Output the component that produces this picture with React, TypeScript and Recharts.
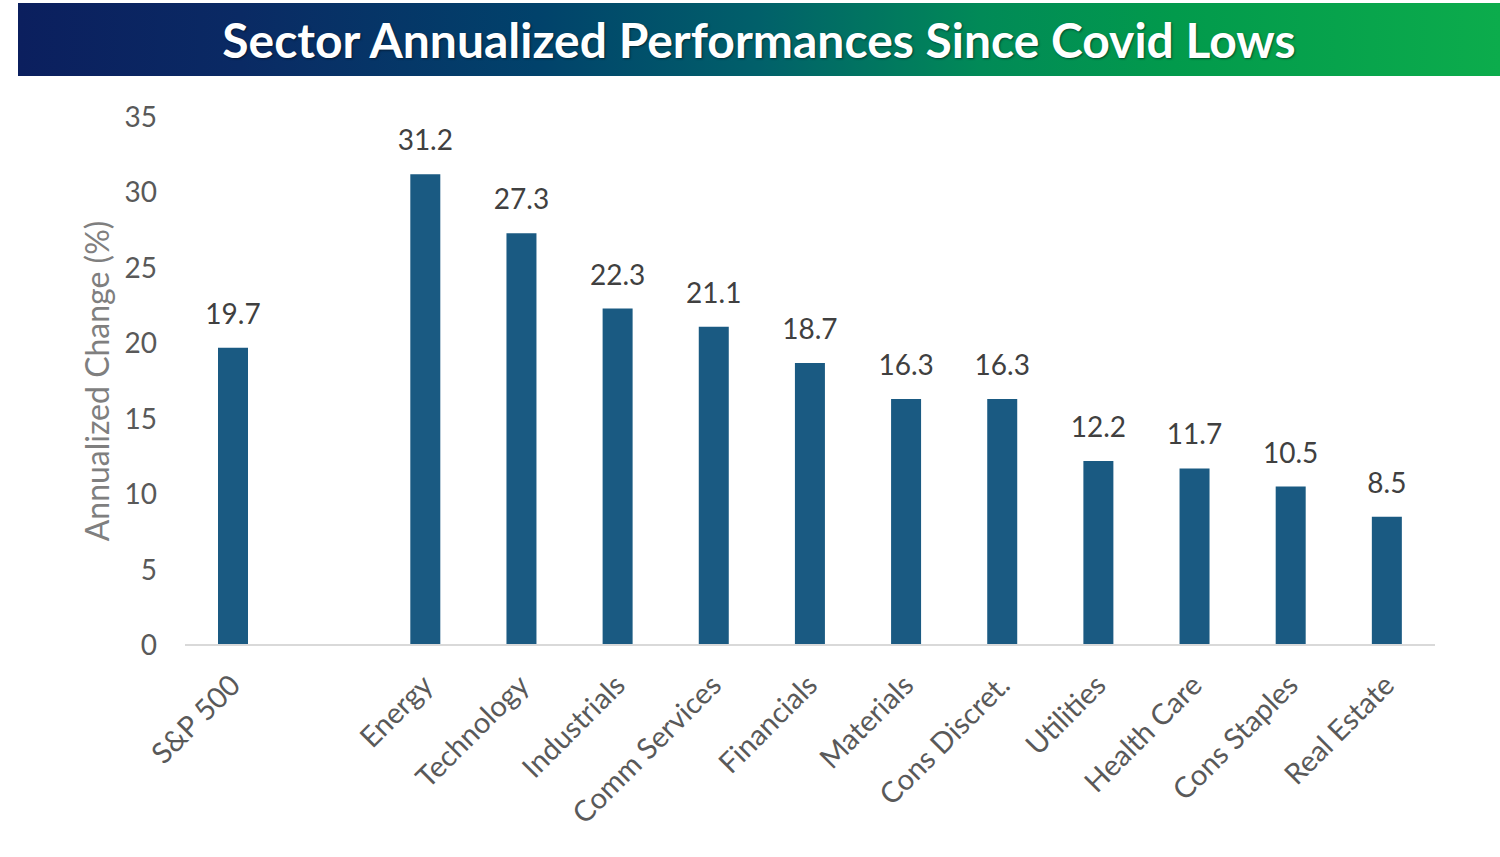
import React from 'react';
import { BarChart, Bar, XAxis, YAxis, LabelList } from 'recharts';

const categories = ['S&P 500', '', 'Energy', 'Technology', 'Industrials', 'Comm Services', 'Financials', 'Materials', 'Cons Discret.', 'Utilities', 'Health Care', 'Cons Staples', 'Real Estate'];
const values: (number | null)[] = [19.7, null, 31.2, 27.3, 22.3, 21.1, 18.7, 16.3, 16.3, 12.2, 11.7, 10.5, 8.5];
const yTicks = [0, 5, 10, 15, 20, 25, 30, 35];
const title = 'Sector Annualized Performances Since Covid Lows';
const yLabel = 'Annualized Change (%)';

const data = categories.map((name, i) => ({ name, value: values[i] }));

const FONT = 'Lato, "Open Sans", sans-serif';

const XTick = (props: any) => {
  const { x, y, payload } = props;
  return (
    <g transform={`translate(${x + 2},${y + 27}) rotate(-45)`}>
      <text textAnchor="end" dy="0.35em" fill="#595959" fontSize={29} fontFamily={FONT}>
        {payload.value}
      </text>
    </g>
  );
};

const YLabel = (props: any) => {
  const { viewBox } = props;
  const cy = viewBox.y + viewBox.height / 2;
  return (
    <text x={96} y={cy} transform={`rotate(-90, 96, ${cy})`} textAnchor="middle" dominantBaseline="central" fill="#7f7f7f" fontSize={32} fontFamily={FONT}>
      {yLabel}
    </text>
  );
};

export default function App() {
  return (
    <div style={{ position: 'absolute', left: 0, top: 0, width: 1500, height: 857, background: '#ffffff', overflow: 'hidden' }}>
      <div
        style={{
          position: 'absolute',
          left: 18,
          top: 3,
          width: 1482,
          height: 73,
          background: 'linear-gradient(90deg, #0b1f5e 0%, #0a2a64 15%, #01426b 35%, #01606a 50%, #018a57 65%, #029a4c 78%, #0cac4c 100%)',
          display: 'flex',
          alignItems: 'center',
          justifyContent: 'center',
          color: '#ffffff',
          fontFamily: FONT,
          fontWeight: 700,
          fontSize: 48,
          textShadow: '1px 1px 2px rgba(0,0,0,0.5)',
        }}
      >
        {title}
      </div>
      <div style={{ position: 'absolute', left: 0, top: 0 }}>
        <BarChart width={1500} height={857} data={data} margin={{ top: 117, right: 65, bottom: 211, left: 125 }} barCategoryGap={0}>
          <XAxis
            dataKey="name"
            interval={0}
            tick={<XTick />}
            tickLine={false}
            axisLine={{ stroke: '#d9d9d9', strokeWidth: 2 }}
            height={1}
          />
          <YAxis
            domain={[0, 35]}
            ticks={yTicks}
            width={60}
            axisLine={false}
            tickLine={false}
            tickSize={0}
            tickMargin={28}
            tick={{ fill: '#595959', fontSize: 28, fontFamily: FONT }}
            label={<YLabel />}
          />
          <Bar dataKey="value" fill="#1a5a82" barSize={30} isAnimationActive={false}>
            <LabelList dataKey="value" position="top" offset={24} fill="#404040" fontSize={28} fontFamily={FONT} />
          </Bar>
        </BarChart>
      </div>
    </div>
  );
}
